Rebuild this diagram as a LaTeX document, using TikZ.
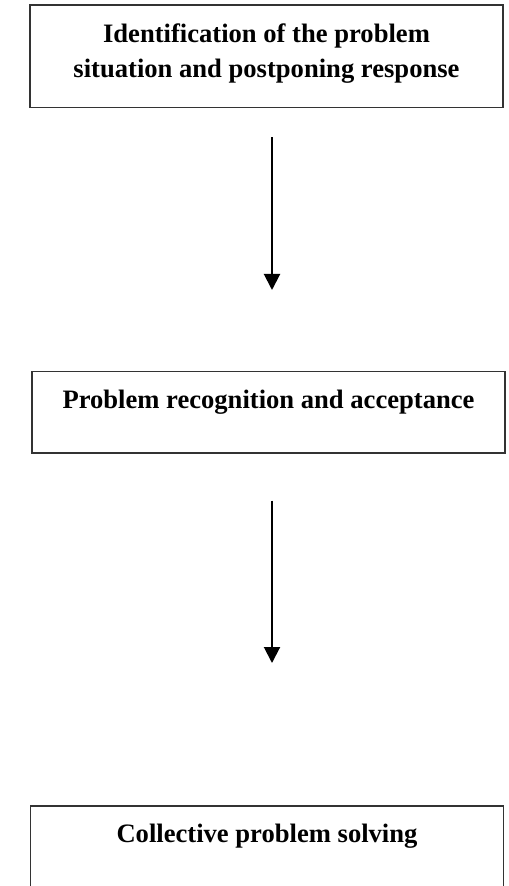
\documentclass[tikz,border=0pt]{standalone}
\usepackage{fontspec}
\setmainfont{Liberation Serif}
\usetikzlibrary{arrows.meta}

\tikzset{
  stage/.style={draw=black!80, line width=0.75pt, inner sep=0pt, anchor=north,
    font=\bfseries\fontsize{13.3}{17.5}\selectfont},
  flow/.style={line width=1pt, -{Triangle[length=8pt,width=8pt]}}
}
\newcommand{\stagetext}[2]{\parbox[t][#1][t]{236.5pt}{\centering\rule{0pt}{18.5pt}#2}}

\begin{document}
\begin{tikzpicture}[x=0.5pt,y=0.5pt]
				\useasboundingbox (0,0) rectangle (508,-886);
				\clip (0,0) rectangle (508,-886);
				%
				\node[stage] (ident) at (266.5,-4.5) {\stagetext{51.25pt}{Identification of the problem\\ situation and postponing response}};
				\node[stage] (recog) at (268.5,-371) {\stagetext{40.5pt}{Problem recognition and acceptance}};
				\node[stage] (solve) at (267,-805) {\stagetext{60pt}{Collective problem solving}};
				%
				\draw[flow, shorten <=14.5pt, shorten >=40.5pt] ([xshift=2.75pt]ident.south) -- ([xshift=1.75pt]recog.north);
				\draw[flow, shorten <=23.5pt, shorten >=71pt] ([xshift=1.75pt]recog.south) -- ([xshift=2.5pt]solve.north);
\end{tikzpicture}
\end{document}
